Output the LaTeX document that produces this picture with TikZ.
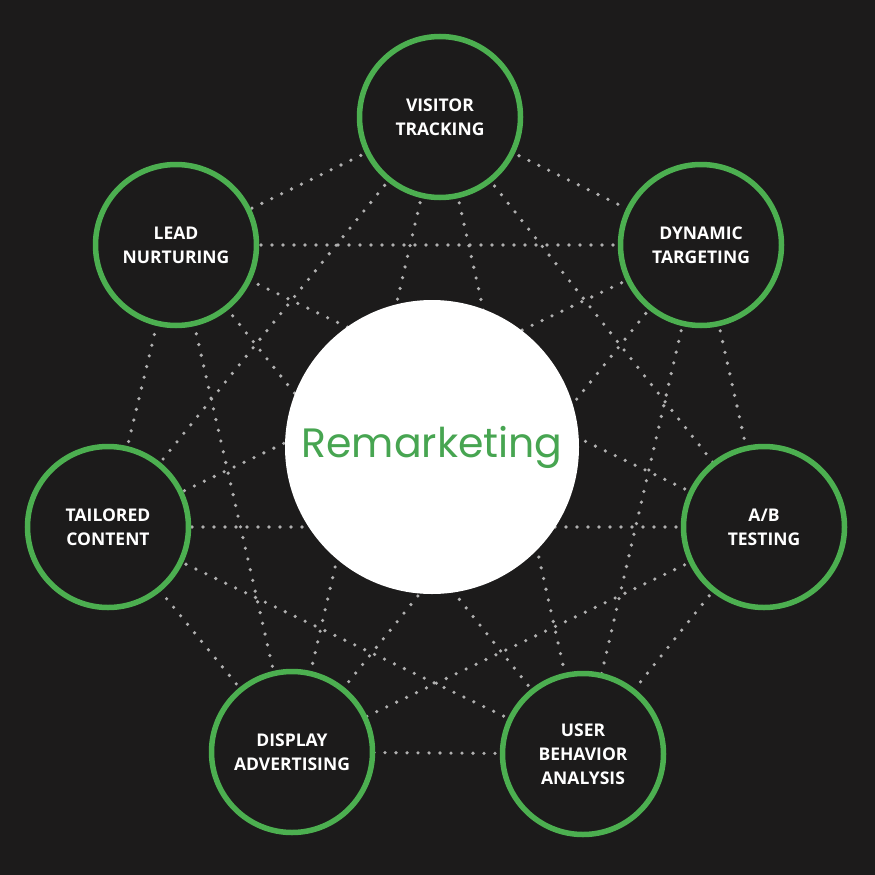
\documentclass[tikz,border=0pt]{standalone}
\usepackage{fontspec}
\setmainfont{Open Sans}
\newfontfamily\titlefont{Poppins}
\definecolor{bgc}{HTML}{1C1B1B}
\definecolor{ringc}{HTML}{4CAF50}
\definecolor{dotc}{HTML}{B0B0B0}
\definecolor{titlec}{HTML}{47A551}
\begin{document}
\begin{tikzpicture}[x=1pt,y=-1pt,
  outer/.style={circle,draw=ringc,line width=5.5pt,fill=bgc,minimum size=161pt,inner sep=0pt,
    text=white,font=\bfseries\fontsize{17.5}{24}\selectfont,align=center},
  hub/.style={circle,fill=white,minimum size=294pt,inner sep=0pt,text=titlec,
    font=\titlefont\fontsize{41}{45}\selectfont},
  link/.style={draw=dotc,line width=3.6pt,line cap=round,dash pattern=on 0pt off 11pt}]
\fill[bgc] (0,0) rectangle (875,875);
\useasboundingbox (0,0) rectangle (875,875);
\coordinate (c1) at (440,117);
\coordinate (c2) at (701,245);
\coordinate (c3) at (764,527);
\coordinate (c4) at (583,754);
\coordinate (c5) at (292,752);
\coordinate (c6) at (108,527);
\coordinate (c7) at (176,245);
\foreach \i in {1,...,7}{
  \foreach \j in {1,...,7}{
    \ifnum\i<\j \path[link] (c\i) -- (c\j);\fi
  }
}
\node[hub] (hub) at (432,447) {Remarketing};
\node[outer] (n1) at (c1) {VISITOR\\TRACKING};
\node[outer] (n2) at (c2) {DYNAMIC\\TARGETING};
\node[outer] (n3) at (c3) {A/B\\TESTING};
\node[outer] (n4) at (c4) {USER\\BEHAVIOR\\ANALYSIS};
\node[outer] (n5) at (c5) {DISPLAY\\ADVERTISING};
\node[outer] (n6) at (c6) {TAILORED\\CONTENT};
\node[outer] (n7) at (c7) {LEAD\\NURTURING};
\end{tikzpicture}
\end{document}
